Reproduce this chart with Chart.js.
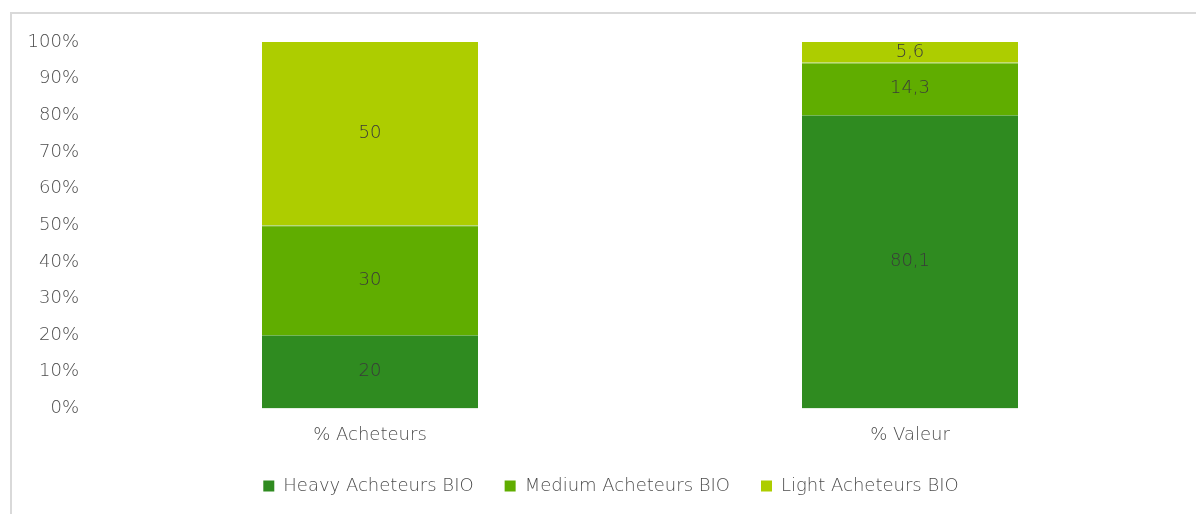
<!DOCTYPE html>
<html><head><meta charset="utf-8">
<script src="https://cdn.jsdelivr.net/npm/chart.js@4.4.0/dist/chart.umd.min.js"></script>
<style>
html,body{margin:0;padding:0;background:#fff;overflow:hidden}
#frame{position:absolute;left:10px;top:12px;width:1300px;height:600px;border:2px solid #d9d9d9;box-sizing:border-box}
#wrap{position:absolute;left:0;top:0;width:1196px;height:514px}
</style></head>
<body>
<div id="frame"></div>
<div id="wrap"><canvas id="c" width="1196" height="514"></canvas></div>
<script>
const categories = ["% Acheteurs", "% Valeur"];
const heavy = [20, 80.1];
const medium = [30, 14.3];
const light = [50, 5.6];
const seriesNames = ["Heavy Acheteurs BIO", "Medium Acheteurs BIO", "Light Acheteurs BIO"];
const yTicks = [0,10,20,30,40,50,60,70,80,90,100];

const FONT = "'DejaVu Sans', sans-serif";
const W = 200;
const FS = 18;
const TXT = '#4d4d4d';
const labelPlugin = {
  id: 'barLabels',
  afterDatasetsDraw(chart) {
    const ctx = chart.ctx;
    ctx.save();
    ctx.font = W + " " + FS + "px " + FONT;
    ctx.fillStyle = "#3a3a3a";
    ctx.textAlign = "center";
    ctx.textBaseline = "middle";
    chart.data.datasets.forEach((ds, i) => {
      const meta = chart.getDatasetMeta(i);
      meta.data.forEach((bar, j) => {
        const v = ds.data[j];
        const y = (bar.y + bar.base) / 2;
        ctx.fillText(String(v).replace('.', ','), bar.x, y);
      });
    });
    ctx.restore();
  }
};
const legendShift = {
  id: 'legendShift',
  afterLayout(chart) {
    const lg = chart.legend;
    if (lg) { lg.left += 21; lg.right += 21; }
  }
};

new Chart(document.getElementById('c'), {
  type: 'bar',
  data: {
    labels: categories,
    datasets: [
      {label: seriesNames[0], data: heavy, backgroundColor: '#2f8b20',
       borderColor: '#74b65a', borderWidth: {top: 1, left: 0, right: 0, bottom: 0}, borderSkipped: 'start'},
      {label: seriesNames[1], data: medium, backgroundColor: '#60ad00',
       borderColor: '#93c84a', borderWidth: {top: 1, left: 0, right: 0, bottom: 0}, borderSkipped: 'start'},
      {label: seriesNames[2], data: light, backgroundColor: '#adcd00', borderWidth: 0}
    ]
  },
  options: {
    responsive: false,
    animation: false,
    datasets: {bar: {categoryPercentage: 1, barPercentage: 0.4}},
    layout: {padding: {left: 0, right: 16, top: 42, bottom: 9}},
    plugins: {
      tooltip: {enabled: false},
      legend: {
        position: 'bottom',
        labels: {
          boxWidth: 11, boxHeight: 11, padding: 31,
          color: TXT,
          font: {family: FONT, size: FS, weight: W},
          generateLabels(chart) {
            return chart.data.datasets.map((ds, i) => ({
              text: ds.label, fillStyle: ds.backgroundColor, strokeStyle: ds.backgroundColor,
              lineWidth: 0, hidden: false, datasetIndex: i, fontColor: TXT
            }));
          }
        }
      }
    },
    scales: {
      x: {
        stacked: true,
        grid: {display: false, drawTicks: false},
        border: {display: false},
        afterFit(scale) { scale.height -= 16; },
        ticks: {color: TXT, font: {family: FONT, size: FS, weight: W}, padding: 16}
      },
      y: {
        stacked: true,
        min: 0, max: 100,
        afterBuildTicks(scale) { scale.ticks = yTicks.map(v => ({value: v})); },
        afterFit(scale) { scale.width = 100; },
        grid: {display: false, drawTicks: false},
        border: {display: false},
        ticks: {
          color: TXT, padding: 21,
          font: {family: FONT, size: FS, weight: W},
          callback: v => v + '%'
        }
      }
    }
  },
  plugins: [labelPlugin, legendShift]
});
</script>
</body></html>
